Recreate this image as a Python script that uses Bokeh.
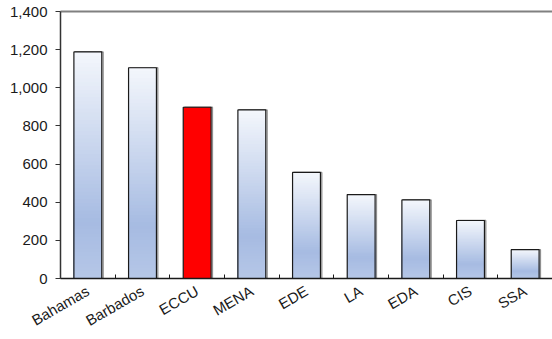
from bokeh.plotting import figure
from bokeh.models import (FixedTicker, NumeralTickFormatter, LinearAxis, Range1d)
from bokeh.embed import file_html
from bokeh.resources import INLINE
import math

# ---- data ----
categories = ["Bahamas", "Barbados", "ECCU", "MENA", "EDE", "LA", "EDA", "CIS", "SSA"]
values = [1188, 1105, 898, 884, 556, 440, 412, 304, 151]
highlight = ["ECCU"]
y_ticks = [0, 200, 400, 600, 800, 1000, 1200, 1400]

FONT = "Liberation Sans"
BAR_W = 0.51
N_STEPS = 60

stops = [(0.0, (244, 247, 252)), (0.75, (166, 187, 226)), (1.0, (182, 199, 231))]


def grad_color(f):
    for (f0, c0), (f1, c1) in zip(stops[:-1], stops[1:]):
        if f0 <= f <= f1:
            t = (f - f0) / (f1 - f0) if f1 > f0 else 0
            c = [round(a + (b - a) * t) for a, b in zip(c0, c1)]
            return "#%02x%02x%02x" % tuple(c)
    return "#%02x%02x%02x" % stops[-1][1]


centers = [i + 0.5 for i in range(len(categories))]

# gradient: painter's layering, tallest (top colour) first, shorter ones over it
gx, gt, gc = [], [], []
for i in range(N_STEPS - 1, -1, -1):
    for x, v, name in zip(centers, values, categories):
        if name in highlight:
            continue
        gx.append(x)
        gt.append(v * (i + 1) / N_STEPS)
        f = 1 - (i + 0.5) / N_STEPS  # fraction from top
        gc.append(grad_color(f))

p = figure(width=552, height=339, output_backend="svg", toolbar_location=None,
           x_range=Range1d(0, len(categories)), y_range=Range1d(0, 1400),
           min_border_left=60, min_border_right=0, min_border_top=11,
           min_border_bottom=61, x_axis_type=None, y_axis_type=None)

p.outline_line_color = None
p.xgrid.visible = False
p.ygrid.visible = False
p.background_fill_color = "white"
p.border_fill_color = "white"

# shadow
p.vbar(x=[c + 0.025 for c in centers], top=values, bottom=0, width=BAR_W,
       fill_color=None, line_color="#8f8f8f", line_width=1.3)

p.vbar(x=gx, bottom=0, top=gt, width=BAR_W, fill_color=gc, line_color=None)

hx = [c for c, n in zip(centers, categories) if n in highlight]
hv = [v for v, n in zip(values, categories) if n in highlight]
p.vbar(x=hx, top=hv, bottom=0, width=BAR_W, fill_color="#ff0000", line_color=None)

p.vbar(x=centers, top=values, bottom=0, width=BAR_W, fill_color=None,
       line_color="#1a1a1a", line_width=1.2)

# y axis
yax = LinearAxis(ticker=FixedTicker(ticks=y_ticks),
                 formatter=NumeralTickFormatter(format="0,0"))
yax.axis_line_color = "#333333"
yax.axis_line_width = 1.5
yax.major_tick_line_color = "#333333"
yax.major_tick_out = 5
yax.major_tick_in = 0
yax.minor_tick_line_color = None
yax.major_label_text_font = FONT
yax.major_label_text_font_size = "15px"
yax.major_label_text_color = "#1a1a1a"
yax.major_label_standoff = 8
p.add_layout(yax, "left")

# x axis
xax = LinearAxis(ticker=FixedTicker(ticks=centers,
                                    minor_ticks=list(range(len(categories) + 1))))
xax.major_label_overrides = {c: n for c, n in zip(centers, categories)}
xax.axis_line_color = "#1a1a1a"
xax.axis_line_width = 1.5
xax.major_tick_line_color = None
xax.major_tick_out = 0
xax.major_tick_in = 0
xax.minor_tick_line_color = "#1a1a1a"
xax.minor_tick_in = 4
xax.minor_tick_out = 0
xax.major_label_text_font = FONT
xax.major_label_text_font_size = "15px"
xax.major_label_text_color = "#1a1a1a"
xax.major_label_orientation = math.radians(30)
xax.major_label_standoff = 11
p.add_layout(xax, "below")

# top border line
tax = LinearAxis(ticker=FixedTicker(ticks=[]))
tax.axis_line_color = "#808080"
tax.axis_line_width = 2
tax.major_tick_line_color = None
tax.minor_tick_line_color = None
tax.major_label_text_font_size = "0px"
tax.major_label_standoff = 0
p.add_layout(tax, "above")

open("out.html", "w").write(file_html(p, INLINE))
